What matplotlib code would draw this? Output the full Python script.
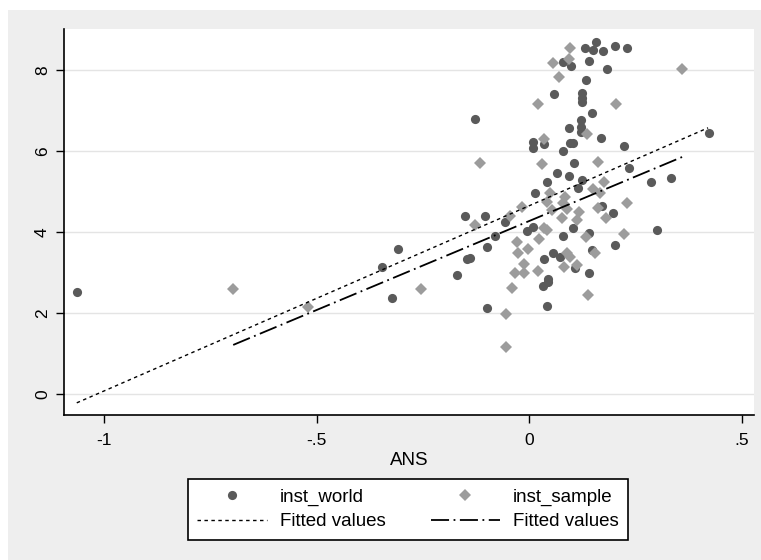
from matplotlib import pyplot as plt
from matplotlib.patches import Rectangle

plt.rcParams['font.family'] = ['Liberation Sans', 'DejaVu Sans']

# inst_world (dark circles)
world_x = [-1.064, -0.346, -0.323, -0.308, -0.170, -0.150, -0.145, -0.139, -0.128, -0.104,
           -0.100, -0.098, -0.080, -0.056, -0.005, 0.010, 0.010, 0.010, 0.015, 0.032,
           0.034, 0.036, 0.042, 0.042, 0.045, 0.045, 0.057, 0.059, 0.065, 0.073,
           0.079, 0.079, 0.079, 0.094, 0.095, 0.096, 0.098, 0.103, 0.104, 0.106,
           0.108, 0.115, 0.121, 0.121, 0.121, 0.125, 0.125, 0.125, 0.125, 0.132,
           0.134, 0.140, 0.142, 0.142, 0.149, 0.149, 0.151, 0.157, 0.169, 0.171,
           0.173, 0.183, 0.198, 0.202, 0.202, 0.224, 0.231, 0.234, 0.286, 0.302,
           0.334, 0.422]
world_y = [2.53, 3.15, 2.39, 3.60, 2.95, 4.40, 3.33, 3.36, 6.79, 4.40,
           2.12, 3.64, 3.91, 4.26, 4.03, 4.14, 6.24, 6.07, 4.96, 2.67,
           6.18, 3.33, 5.24, 2.18, 2.78, 2.86, 3.50, 7.41, 5.46, 3.40,
           6.02, 3.91, 8.21, 6.58, 5.39, 6.21, 8.11, 4.10, 6.21, 5.72,
           3.11, 5.09, 6.77, 6.61, 6.48, 7.43, 7.31, 7.22, 5.29, 8.54,
           7.76, 8.24, 3.98, 3.00, 6.94, 3.56, 8.50, 8.71, 6.34, 4.65,
           8.48, 8.04, 4.48, 8.60, 3.69, 6.13, 8.54, 5.58, 5.24, 4.06,
           5.35, 6.44]

# inst_sample (light diamonds)
sample_x = [-0.696, -0.519, -0.255, -0.127, -0.115, -0.055, -0.055, -0.046, -0.041, -0.033,
            -0.029, -0.025, -0.017, -0.013, -0.012, -0.002, 0.022, 0.022, 0.024, 0.030,
            0.034, 0.036, 0.042, 0.042, 0.048, 0.055, 0.056, 0.071, 0.077, 0.079,
            0.081, 0.085, 0.089, 0.089, 0.093, 0.096, 0.096, 0.112, 0.112, 0.118,
            0.134, 0.136, 0.138, 0.151, 0.155, 0.161, 0.163, 0.167, 0.176, 0.181,
            0.204, 0.224, 0.231, 0.359]
sample_y = [2.59, 2.16, 2.60, 4.18, 5.70, 1.98, 1.18, 4.40, 2.62, 2.99,
            3.77, 3.48, 4.63, 2.99, 3.23, 3.58, 7.18, 3.05, 3.83, 5.69,
            4.10, 6.30, 4.06, 4.76, 4.96, 4.55, 8.19, 7.84, 4.35, 4.72,
            3.15, 4.88, 4.57, 3.48, 8.27, 8.54, 3.40, 4.30, 3.19, 4.51,
            3.88, 6.43, 2.45, 5.06, 3.48, 5.74, 4.59, 4.96, 5.25, 4.35,
            7.17, 3.95, 4.72, 8.03]

# fitted lines (end points)
fit_world_x = [-1.064, 0.421]
fit_world_y = [-0.21, 6.58]
fit_sample_x = [-0.696, 0.360]
fit_sample_y = [1.22, 5.86]

x_ticks = [-1, -0.5, 0, 0.5]
x_tick_labels = ["-1", "-.5", "0", ".5"]
y_ticks = [0, 2, 4, 6, 8]
y_tick_labels = ["0", "2", "4", "6", "8"]


def main():
    fig = plt.figure(figsize=(7.61, 5.6), dpi=100, facecolor="white")
    fig.patches.append(Rectangle((8 / 761, 0), 1 - 8 / 761, 1 - 10 / 560,
                                 transform=fig.transFigure, facecolor="#eeeeee",
                                 edgecolor="none", zorder=-10))

    ax = fig.add_axes([64 / 761, 1 - 415 / 560, 690 / 761, 386 / 560])
    ax.set_facecolor("white")

    w_dots, = ax.plot(world_x, world_y, "o", color="#5a5a5a", markersize=6.6,
                      markeredgewidth=0, zorder=3)
    s_dots, = ax.plot(sample_x, sample_y, "D", color="#9c9c9c", markersize=6.2,
                      markeredgewidth=0, zorder=4)
    w_fit, = ax.plot(fit_world_x, fit_world_y, color="black", linewidth=1.0,
                     linestyle=(0, (2.5, 2.5)), zorder=5)
    s_fit, = ax.plot(fit_sample_x, fit_sample_y, color="black", linewidth=1.3,
                     linestyle=(0, (10, 2.5, 1, 2.5)), zorder=5)

    ax.set_xlim(-1.094, 0.529)
    ax.set_ylim(-0.51, 9.02)
    ax.set_xticks(x_ticks, x_tick_labels)
    ax.set_yticks(y_ticks, y_tick_labels)
    plt.setp(ax.get_yticklabels(), rotation=90, va="center")
    ax.tick_params(axis="both", direction="out", length=6, width=1.0,
                   labelsize=12.5, color="black")
    ax.tick_params(axis="x", pad=7)
    ax.tick_params(axis="y", pad=4)

    for side in ["top", "right"]:
        ax.spines[side].set_visible(False)
    for side in ["left", "bottom"]:
        ax.spines[side].set_linewidth(1.2)

    ax.yaxis.grid(True, color="#e4e4e4", linewidth=1.0)
    ax.set_axisbelow(True)
    ax.set_xlabel("ANS", fontsize=13.5, labelpad=3)

    leg = fig.legend([w_dots, w_fit, s_dots, s_fit],
                     ["inst_world", "Fitted values", "inst_sample", "Fitted values"],
                     ncol=2, loc="center", bbox_to_anchor=(408 / 761, 1 - 509.5 / 560),
                     fontsize=13.5, frameon=True, fancybox=False, handlelength=3.7,
                     handletextpad=0.7, columnspacing=2.4, labelspacing=0.4,
                     borderpad=0.5, borderaxespad=0, framealpha=1)
    leg.get_frame().set_edgecolor("black")
    leg.get_frame().set_facecolor("white")
    leg.get_frame().set_linewidth(1.2)

    fig.savefig("out.png", dpi=100, facecolor="white")


if __name__ == "__main__":
    main()
